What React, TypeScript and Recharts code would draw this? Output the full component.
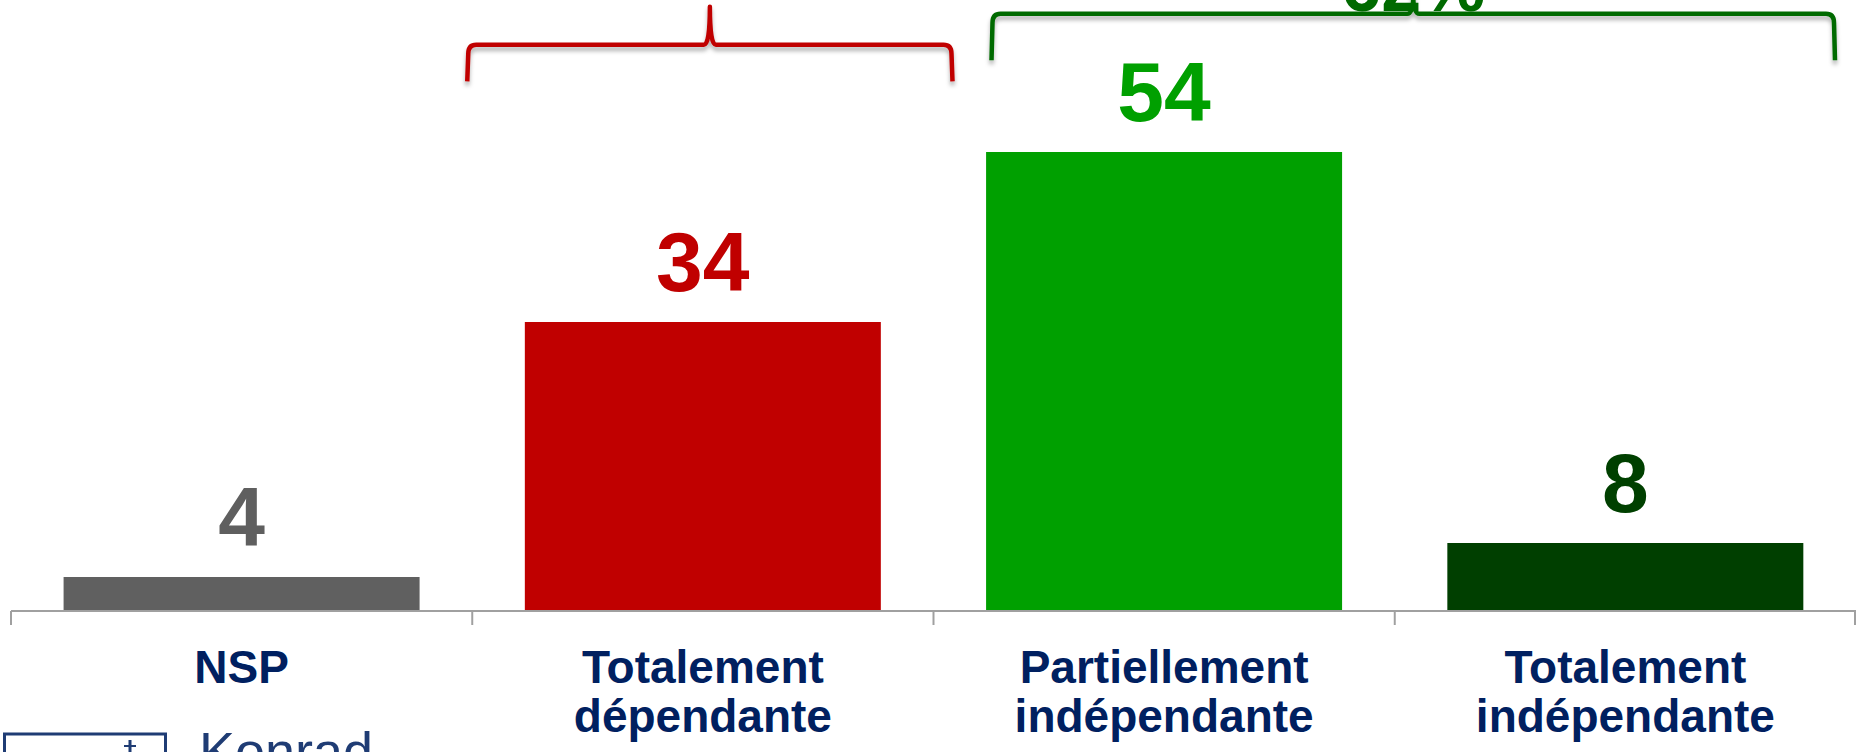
import React from 'react';
import { BarChart, Bar, XAxis, YAxis, Cell, LabelList, ReferenceArea } from 'recharts';

const categories = ['NSP', 'Totalement dépendante', 'Partiellement indépendante', 'Totalement indépendante'];
const values = [4, 34, 54, 8];
const barColors = ['#606060', '#C00000', '#00A000', '#003F00'];
const labelColors = ['#5F5F5F', '#C00000', '#00A000', '#004000'];

const braceFrom = ['Totalement dépendante', 'Partiellement indépendante'];
const braceTo = ['Totalement dépendante', 'Totalement indépendante'];
const braceTexts = ['', '62%'];
const braceColors = ['#C00000', '#006A00'];

const data = categories.map((c, i) => ({ category: c, value: values[i] }));

const FONT = '"Liberation Sans", Arial, Helvetica, sans-serif';

// brace geometry (style only): [insetLeft, insetRight, bottomValue, tipValue, barFraction]
const braceGeom = [
  { insetL: -5, insetR: -19, y1: 62.3, y2: 71.1, frac: 0.51 },
  { insetL: 58, insetR: 21, y1: 64.8, y2: 72.5, frac: 0.29 },
];

const Brace = (props: any) => {
  const { x, y, width, height, idx } = props;
  const g = braceGeom[idx];
  const L = x + g.insetL;
  const R = x + width - g.insetR;
  const top = y;
  const bottom = y + height;
  const hy = top + g.frac * height;
  const tip = (L + R) / 2;
  const r = 9;
  const t = 6;
  const d = `M ${L} ${bottom} L ${L + 1} ${hy + r} Q ${L + 1} ${hy} ${L + r} ${hy} L ${tip - t} ${hy} Q ${tip} ${hy} ${tip} ${top} Q ${tip} ${hy} ${tip + t} ${hy} L ${R - r} ${hy} Q ${R - 1} ${hy} ${R - 1} ${hy + r} L ${R} ${bottom}`;
  return (
    <g>
      <defs>
        <filter id={`braceShadow${idx}`} x="-5%" y="-50%" width="110%" height="200%">
          <feDropShadow dx="0" dy="4" stdDeviation="2" floodColor="#000" floodOpacity="0.3" />
        </filter>
      </defs>
      <path d={d} fill="none" stroke={braceColors[idx]} strokeWidth={4.5} strokeLinejoin="round" filter={`url(#braceShadow${idx})`} />
      {braceTexts[idx] ? (
        <text x={tip} y={hy - 3} textAnchor="middle" fontFamily={FONT} fontWeight="bold" fontSize={72} fill={braceColors[idx]}>
          {braceTexts[idx]}
        </text>
      ) : null}
    </g>
  );
};

const ValueLabel = (props: any) => {
  const { x, y, width, index, value } = props;
  return (
    <text x={x + width / 2} y={y - 31} textAnchor="middle" fontFamily={FONT} fontWeight="bold" fontSize={84} fill={labelColors[index]}>
      {value}
    </text>
  );
};

const CategoryTick = (props: any) => {
  const { x, y, payload, index } = props;
  const half = payload && payload.offset ? payload.offset : 230.6;
  const lines = String(payload.value).split(' ');
  return (
    <g>
      <line x1={x - half} x2={x - half} y1={y} y2={y + 14} stroke="#A0A0A0" strokeWidth={2} />
      {index === categories.length - 1 ? (
        <line x1={x + half - 1} x2={x + half - 1} y1={y} y2={y + 14} stroke="#A0A0A0" strokeWidth={2} />
      ) : null}
      <text textAnchor="middle" fontFamily={FONT} fontWeight="bold" fontSize={46} fill="#002060">
        {lines.map((l, i) => (
          <tspan key={i} x={x} y={y + 72 + i * 48.5}>
            {l}
          </tspan>
        ))}
      </text>
    </g>
  );
};

export default function App() {
  return (
    <div style={{ position: 'absolute', left: 0, top: 0, width: 1856, height: 752, overflow: 'hidden', background: '#fff' }}>
      <BarChart width={1856} height={752} data={data} margin={{ top: 16, right: 0, left: 11, bottom: 0 }} barCategoryGap="11.4%">
        <XAxis
          dataKey="category"
          height={141}
          interval={0}
          tickLine={false}
          tickSize={0}
          tickMargin={0}
          axisLine={{ stroke: '#A0A0A0', strokeWidth: 2 }}
          tick={<CategoryTick />}
        />
        <YAxis hide domain={[0, 70]} />
        <Bar dataKey="value" isAnimationActive={false}>
          {data.map((d, i) => (
            <Cell key={d.category} fill={barColors[i]} />
          ))}
          <LabelList dataKey="value" content={<ValueLabel />} />
        </Bar>
        {braceFrom.map((f, i) => (
          <ReferenceArea
            key={i}
            x1={f}
            x2={braceTo[i]}
            y1={braceGeom[i].y1}
            y2={braceGeom[i].y2}
            ifOverflow="visible"
            shape={(p: any) => <Brace {...p} idx={i} />}
          />
        ))}
      </BarChart>
      <svg style={{ position: 'absolute', left: 0, top: 700 }} width={420} height={52}>
        <rect x={4.5} y={34} width={161} height={40} fill="none" stroke="#1F3C74" strokeWidth={3} />
        <line x1={130} x2={130} y1={40} y2={52} stroke="#1F3C74" strokeWidth={3} />
        <line x1={124} x2={136} y1={46} y2={46} stroke="#1F3C74" strokeWidth={2} />
        <text x={199} y={70} fontFamily={FONT} fontSize={54} fill="#1F3C74">
          Konrad
        </text>
      </svg>
    </div>
  );
}
